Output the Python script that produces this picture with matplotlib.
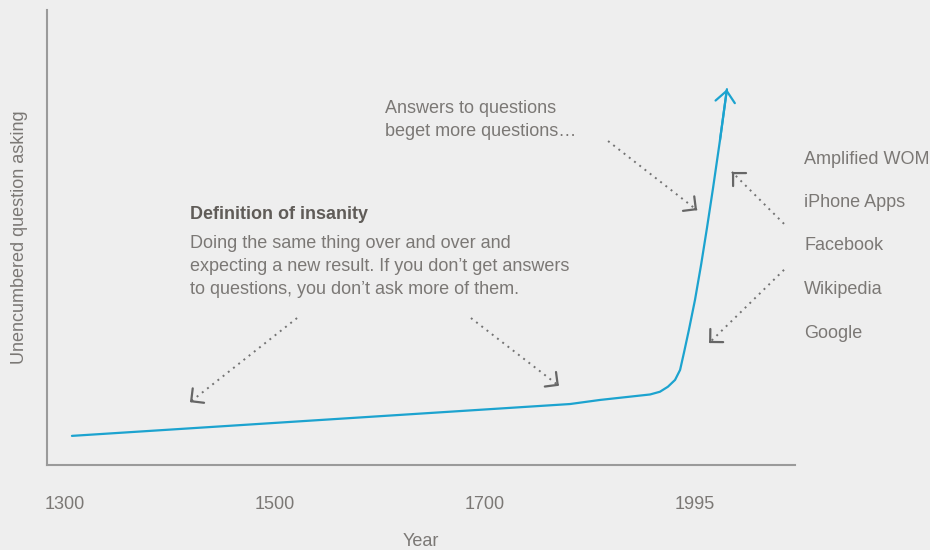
import matplotlib
matplotlib.use("Agg")
import matplotlib.pyplot as plt

# tick positions are evenly spaced categories
year_labels = ["1300", "1500", "1700", "1995"]
year_positions = [0, 1, 2, 3]

# hand-read curve (x in tick units, y in arbitrary "asking" units)
curve_x = [0.033, 2.405, 2.548, 2.786, 2.833, 2.871, 2.905, 2.929, 2.948,
           2.971, 3.000, 3.029, 3.057, 3.086, 3.119, 3.152]
curve_y = [6.4, 13.4, 14.3, 15.5, 16.1, 17.2, 18.7, 20.9, 24.8,
           29.7, 36.3, 44.0, 52.1, 60.9, 71.4, 82.6]

drivers = ["Amplified WOM", "iPhone Apps", "Facebook", "Wikipedia", "Google"]

title_insanity = "Definition of insanity"
text_insanity = ("Doing the same thing over and over and\n"
                 "expecting a new result. If you don\u2019t get answers\n"
                 "to questions, you don\u2019t ask more of them.")
text_answers = "Answers to questions\nbeget more questions\u2026"

# dotted pointers: (start, end) in data units
pointers = [
    ((1.105, 32.3), (0.595, 13.8)),
    ((1.933, 32.3), (2.352, 17.4)),
    ((2.586, 71.2), (3.010, 56.0)),
    ((3.424, 53.0), (3.176, 64.4)),
    ((3.424, 42.9), (3.067, 26.8)),
]

BG = "#eeeeee"
TEXT = "#7b7875"
BOLD = "#605c58"
BLUE = "#1ca3cf"
W, H = 930, 550

plt.rcParams["font.family"] = ["Liberation Sans", "DejaVu Sans"]

fig = plt.figure(figsize=(W / 100, H / 100), dpi=100, facecolor=BG)
ax = fig.add_axes([47 / W, 1 - 465 / H, (795 - 47) / W, (465 - 10) / H])
ax.set_facecolor(BG)
ax.set_xlim((47 - 65) / 210, (795 - 65) / 210)
ax.set_ylim(0, 100)

for side in ("top", "right"):
    ax.spines[side].set_visible(False)
for side in ("left", "bottom"):
    ax.spines[side].set_color("#9a9a9a")
    ax.spines[side].set_linewidth(1.5)

ax.set_xticks(year_positions, labels=year_labels)
ax.set_yticks([])
ax.tick_params(axis="x", length=0, pad=22, labelsize=13, labelcolor=TEXT)
ax.set_xlabel("Year", fontsize=13, color=TEXT, labelpad=15)
ax.set_ylabel("Unencumbered question asking", fontsize=13, color=TEXT, labelpad=14)

ax.plot(curve_x, curve_y, color=BLUE, lw=1.6, solid_capstyle="round",
        solid_joinstyle="round", clip_on=False)
ax.annotate("", xy=(curve_x[-1], curve_y[-1]), xytext=(curve_x[-2], curve_y[-2]),
            arrowprops=dict(arrowstyle="->,head_length=0.8,head_width=0.7", color=BLUE,
                            lw=1.6, mutation_scale=10, shrinkA=0, shrinkB=0))

for (x0, y0), (x1, y1) in pointers:
    ax.plot([x0, x1], [y0, y1], color="#737373", lw=1.4, linestyle=(0, (1, 2.4)))
    ax.annotate("", xy=(x1, y1), xytext=(x1 + 0.02 * (x0 - x1), y1 + 0.02 * (y0 - y1)),
                arrowprops=dict(arrowstyle="->,head_length=0.66,head_width=0.66", color="#666666",
                                lw=1.6, mutation_scale=10, shrinkA=0, shrinkB=0))


def fig_xy(px, py):
    return px / W, 1 - py / H


fig.text(*fig_xy(385, 100), text_answers, fontsize=13, color=TEXT, va="top", ha="left",
         linespacing=1.45)
fig.text(*fig_xy(190, 214), title_insanity, fontsize=13, color=BOLD, va="center",
         ha="left", fontweight="bold")
fig.text(*fig_xy(190, 235), text_insanity, fontsize=13, color=TEXT, va="top", ha="left",
         linespacing=1.45)

for i, name in enumerate(drivers):
    fig.text(*fig_xy(804, 159 + i * 43.5), name, fontsize=13, color=TEXT, va="center", ha="left")

fig.savefig("out.png", dpi=100, facecolor=BG)
